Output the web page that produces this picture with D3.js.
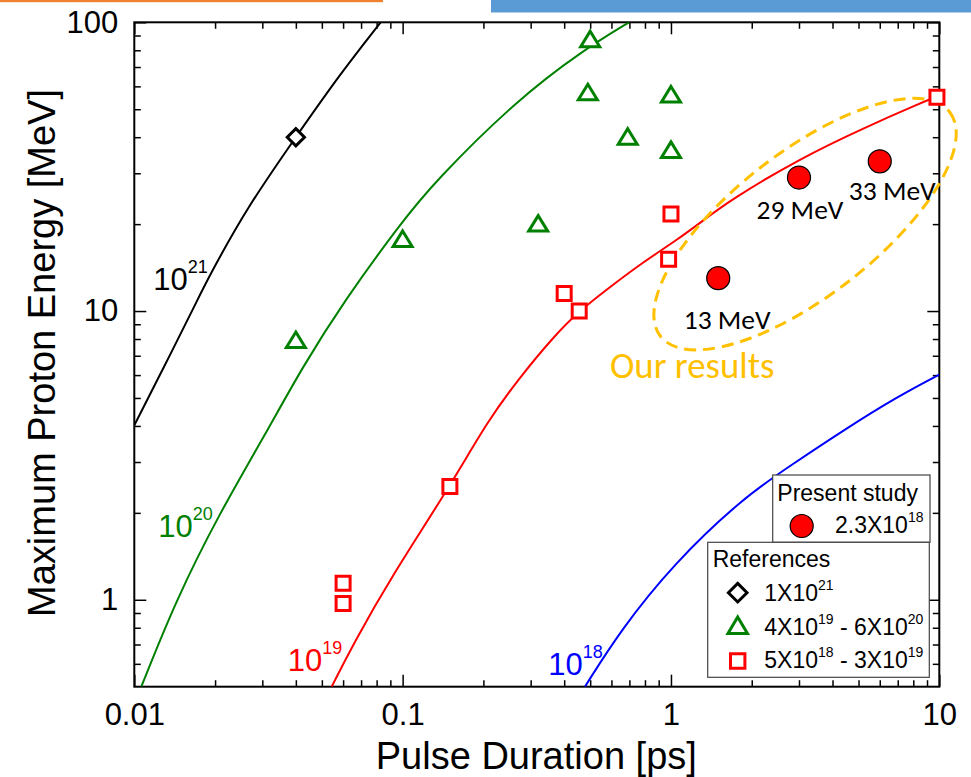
<!DOCTYPE html>
<html>
<head>
<meta charset="utf-8">
<script src="https://cdn.jsdelivr.net/npm/d3@7"></script>
<style>
  body { margin: 0; background: #fff; }
  svg { display: block; }
</style>
</head>
<body>
<svg id="chart" width="971" height="777"></svg>
<script>
// ---- axis ticks ----
const xTickValues = [0.01, 0.1, 1, 10];
const xTickLabels = ["0.01", "0.1", "1", "10"];
const yTickValues = [1, 10, 100];
const yTickLabels = ["1", "10", "100"];

// ---- model curves: max proton energy [MeV] vs pulse duration [ps] ----
const curve1e21 = [[0.01, 4.02], [0.01397, 7.41], [0.01717, 10.9], [0.01926, 13.5], [0.02637, 22.9],
                   [0.03995, 40], [0.05875, 66.6], [0.0828, 100]];
const curve1e20 = [[0.01062, 0.5], [0.01427, 0.993], [0.02068, 1.98], [0.03088, 3.76], [0.04227, 6.39],
                   [0.0608, 10.9], [0.0983, 20.1], [0.1309, 27.9], [0.266, 53.8], [0.471, 80.1], [0.698, 100]];
const curve1e19 = [[0.0544, 0.5], [0.0655, 0.703], [0.0905, 1.196], [0.150, 2.47], [0.2086, 4.20],
                   [0.2738, 5.90], [0.3642, 8.13], [0.4581, 10.06], [0.5926, 12.11], [0.7888, 14.79],
                   [1.05, 17.59], [1.32, 20.6], [1.66, 24.2], [3.027, 33.8], [5.36, 43.5], [8.48, 52.4], [10, 55.8]];
const curve1e18 = [[0.478, 0.5], [0.646, 0.78], [1.02, 1.33], [1.86, 2.26], [2.86, 2.96],
                   [4.39, 3.86], [6.93, 5.03], [10, 6.02]];

// ---- reference experiments ----
const diamondPts = [[0.04, 40]];
const trianglePts = [[0.04, 7.9], [0.1, 17.7], [0.32, 20], [0.5, 87], [0.49, 57], [0.69, 40], [1.0, 56], [1.0, 36]];
const squarePts = [[0.06, 1.14], [0.06, 0.97], [0.15, 2.47], [0.40, 11.5], [0.455, 10], [0.98, 15.1], [1.0, 21.7], [9.8, 55]];

// ---- present study ----
const presentDurations = [1.5, 3, 6];
const presentEnergies = [13, 29, 33];

// ---- layout ----
const W = 971, H = 777;
const plotL = 134.3, plotR = 939.3, plotT = 22.3, plotB = 686.7;
const svg = d3.select("#chart");
const AX_FONT = "'Liberation Sans', Arial, Helvetica, sans-serif";
const CAL_FONT = "Carlito, Calibri, Lato, sans-serif";

const x = d3.scaleLog().domain([0.01, 10]).range([plotL, plotR]);
const y = d3.scaleLog().domain([0.5, 100]).range([plotB, plotT]);

// decorative bars along the top edge
svg.append("rect").attr("x", 0).attr("y", 0).attr("width", 383).attr("height", 2.2).attr("fill", "#f0822f");
svg.append("rect").attr("x", 491).attr("y", 0).attr("width", W - 491).attr("height", 12.5).attr("fill", "#5b9bd5");

// minor tick values
const decadesX = [0.01, 0.1, 1];
const minorX = [];
decadesX.forEach(d => { for (let k = 2; k <= 9; k++) minorX.push(k * d); });
const minorY = [0.6, 0.7, 0.8, 0.9];
[1, 10].forEach(d => { for (let k = 2; k <= 9; k++) minorY.push(k * d); });

function styleAxis(g) {
  g.select(".domain").remove();
  g.selectAll(".tick line").attr("stroke", "#000").attr("stroke-width", 1.5);
  g.selectAll("text").attr("font-family", AX_FONT).attr("font-size", 31).attr("fill", "#000");
}

// bottom axis (major with labels, minor without)
svg.append("g").attr("transform", `translate(0,${plotB})`)
  .call(d3.axisBottom(x).tickValues(xTickValues).tickSize(-12).tickPadding(16)
    .tickFormat((d, i) => xTickLabels[i]))
  .call(styleAxis);
svg.append("g").attr("transform", `translate(0,${plotB})`)
  .call(d3.axisBottom(x).tickValues(minorX).tickSize(-6.5).tickFormat(""))
  .call(styleAxis);
// top axis
svg.append("g").attr("transform", `translate(0,${plotT})`)
  .call(d3.axisTop(x).tickValues(xTickValues).tickSize(-12).tickFormat(""))
  .call(styleAxis);
svg.append("g").attr("transform", `translate(0,${plotT})`)
  .call(d3.axisTop(x).tickValues(minorX).tickSize(-6.5).tickFormat(""))
  .call(styleAxis);
// left axis
svg.append("g").attr("transform", `translate(${plotL},0)`)
  .call(d3.axisLeft(y).tickValues(yTickValues).tickSize(-12).tickPadding(16)
    .tickFormat((d, i) => yTickLabels[i]))
  .call(styleAxis);
svg.append("g").attr("transform", `translate(${plotL},0)`)
  .call(d3.axisLeft(y).tickValues(minorY).tickSize(-6.5).tickFormat(""))
  .call(styleAxis);
// right axis
svg.append("g").attr("transform", `translate(${plotR},0)`)
  .call(d3.axisRight(y).tickValues(yTickValues).tickSize(-12).tickFormat(""))
  .call(styleAxis);
svg.append("g").attr("transform", `translate(${plotR},0)`)
  .call(d3.axisRight(y).tickValues(minorY).tickSize(-6.5).tickFormat(""))
  .call(styleAxis);

// plot frame
svg.append("rect").attr("x", plotL).attr("y", plotT)
  .attr("width", plotR - plotL).attr("height", plotB - plotT)
  .attr("fill", "none").attr("stroke", "#000").attr("stroke-width", 2);

// axis titles
svg.append("text").attr("x", (plotL + plotR) / 2 - 0.5).attr("y", 769)
  .attr("text-anchor", "middle").attr("font-family", AX_FONT).attr("font-size", 38)
  .text("Pulse Duration [ps]");
svg.append("text").attr("transform", `translate(55,353) rotate(-90)`)
  .attr("text-anchor", "middle").attr("font-family", AX_FONT).attr("font-size", 38)
  .text("Maximum Proton Energy [MeV]");

// clip for curves
svg.append("clipPath").attr("id", "plotclip").append("rect")
  .attr("x", plotL).attr("y", plotT).attr("width", plotR - plotL).attr("height", plotB - plotT);

// smooth B-spline through the sampled curve points (log-log space via the scales)
const line = d3.line().x(d => x(d[0])).y(d => y(d[1])).curve(d3.curveBasis);
const curves = [
  { data: curve1e21, color: "#000000" },
  { data: curve1e20, color: "#008000" },
  { data: curve1e19, color: "#ff0000" },
  { data: curve1e18, color: "#0000ff" }
];
svg.append("g").attr("clip-path", "url(#plotclip)")
  .selectAll("path").data(curves).join("path")
  .attr("d", c => line(c.data))
  .attr("fill", "none").attr("stroke", c => c.color).attr("stroke-width", 2);

// curve labels: 10^n
function powerLabel(g, px, py, base, sup, size, supSize, supShift, color) {
  const t = g.append("text").attr("x", px).attr("y", py)
    .attr("font-family", AX_FONT).attr("font-size", size).attr("fill", color);
  t.append("tspan").text(base);
  t.append("tspan").attr("font-size", supSize).attr("dy", -supShift).text(sup);
  return t;
}
const curveLabels = [
  { at: [0.01177, 11.8], sup: "21", color: "#000000" },
  { at: [0.01229, 1.646], sup: "20", color: "#008000" },
  { at: [0.0373, 0.5646], sup: "19", color: "#ff0000" },
  { at: [0.349, 0.55], sup: "18", color: "#0000ff" }
];
curveLabels.forEach(l => powerLabel(svg, x(l.at[0]), y(l.at[1]), "10", l.sup, 31, 18, 17, l.color));

// marker shapes
const diamondPath = s => `M0,${-s}L${s},0L0,${s}L${-s},0Z`;
const trianglePath = (w, h) => `M0,${-h * 0.55}L${w / 2},${h * 0.45}L${-w / 2},${h * 0.45}Z`;
const squarePath = s => `M${-s},${-s}H${s}V${s}H${-s}Z`;

// ellipse around the present results
const ellipseCenter = [3.16, 20];
svg.append("ellipse")
  .attr("cx", x(ellipseCenter[0])).attr("cy", y(ellipseCenter[1]))
  .attr("rx", 183).attr("ry", 72)
  .attr("transform", `rotate(-37.8 ${x(ellipseCenter[0])} ${y(ellipseCenter[1])})`)
  .attr("fill", "none").attr("stroke", "#ffc000").attr("stroke-width", 3)
  .attr("stroke-dasharray", "12 7");

const marks = svg.append("g");
marks.selectAll(".dia").data(diamondPts).join("path").attr("class", "dia")
  .attr("transform", d => `translate(${x(d[0])},${y(d[1])})`)
  .attr("d", diamondPath(8.6)).attr("fill", "#fff").attr("stroke", "#000").attr("stroke-width", 3);
marks.selectAll(".tri").data(trianglePts).join("path").attr("class", "tri")
  .attr("transform", d => `translate(${x(d[0])},${y(d[1])})`)
  .attr("d", trianglePath(19, 15.5)).attr("fill", "#fff").attr("stroke", "#008000").attr("stroke-width", 3);
marks.selectAll(".sq").data(squarePts).join("path").attr("class", "sq")
  .attr("transform", d => `translate(${x(d[0])},${y(d[1])})`)
  .attr("d", squarePath(7)).attr("fill", "#fff").attr("stroke", "#ff0000").attr("stroke-width", 3);

const present = presentDurations.map((d, i) => [d, presentEnergies[i]]);
marks.selectAll(".pres").data(present).join("circle").attr("class", "pres")
  .attr("cx", d => x(d[0])).attr("cy", d => y(d[1])).attr("r", 11.5)
  .attr("fill", "#ff0000").attr("stroke", "#000").attr("stroke-width", 1.2);

// energy labels under the present points
const labelOffsets = [[9, 50.5], [1, 41], [12.5, 38.6]];
marks.selectAll(".plab").data(present).join("text").attr("class", "plab")
  .attr("x", (d, i) => x(d[0]) + labelOffsets[i][0])
  .attr("y", (d, i) => y(d[1]) + labelOffsets[i][1])
  .attr("text-anchor", "middle").attr("font-family", CAL_FONT).attr("font-size", 27.5)
  .attr("fill", "#000").text(d => `${d[1]} MeV`);

svg.append("text").attr("x", 610).attr("y", 377.7)
  .attr("font-family", CAL_FONT).attr("font-size", 36.8).attr("fill", "#ffc000")
  .text("Our results");

// ---- legends ----
const LEG_STROKE = "#444";
const lg1 = svg.append("g");
lg1.append("rect").attr("x", 772.7).attr("y", 475).attr("width", 157.3).attr("height", 67.3)
  .attr("fill", "#fff").attr("stroke", LEG_STROKE).attr("stroke-width", 1.2);
lg1.append("text").attr("x", 777.3).attr("y", 500.7)
  .attr("font-family", AX_FONT).attr("font-size", 23).text("Present study");
lg1.append("circle").attr("cx", 801.7).attr("cy", 526).attr("r", 11.5)
  .attr("fill", "#ff0000").attr("stroke", "#000").attr("stroke-width", 1.2);
powerLabel(lg1, 835, 533.3, "2.3X10", "18", 23, 14, 11, "#000");

const lg2 = svg.append("g");
lg2.append("rect").attr("x", 707.7).attr("y", 542.3).attr("width", 221.6).attr("height", 135)
  .attr("fill", "#fff").attr("stroke", LEG_STROKE).attr("stroke-width", 1.2);
lg2.append("text").attr("x", 712.7).attr("y", 566.7)
  .attr("font-family", AX_FONT).attr("font-size", 23).text("References");
lg2.append("path").attr("transform", "translate(737.7,592.7)").attr("d", diamondPath(9.3))
  .attr("fill", "#fff").attr("stroke", "#000").attr("stroke-width", 3);
lg2.append("path").attr("transform", "translate(737.7,626)").attr("d", trianglePath(19.5, 16.5))
  .attr("fill", "#fff").attr("stroke", "#008000").attr("stroke-width", 3);
lg2.append("path").attr("transform", "translate(737.7,661)").attr("d", squarePath(7.2))
  .attr("fill", "#fff").attr("stroke", "#ff0000").attr("stroke-width", 3);

function legendRange(g, px, py, parts) {
  const t = g.append("text").attr("x", px).attr("y", py)
    .attr("font-family", AX_FONT).attr("font-size", 23).attr("fill", "#000");
  let shifted = false;
  parts.forEach(([s, isSup]) => {
    const sp = t.append("tspan").text(s);
    if (isSup && !shifted) { sp.attr("font-size", 14).attr("dy", -11); shifted = true; }
    else if (!isSup && shifted) { sp.attr("dy", 11); shifted = false; }
  });
}
legendRange(lg2, 764.3, 600.7, [["1X10", false], ["21", true]]);
legendRange(lg2, 764.3, 635, [["4X10", false], ["19", true], [" - 6X10", false], ["20", true]]);
legendRange(lg2, 764.3, 668.3, [["5X10", false], ["18", true], [" - 3X10", false], ["19", true]]);
</script>
</body>
</html>
